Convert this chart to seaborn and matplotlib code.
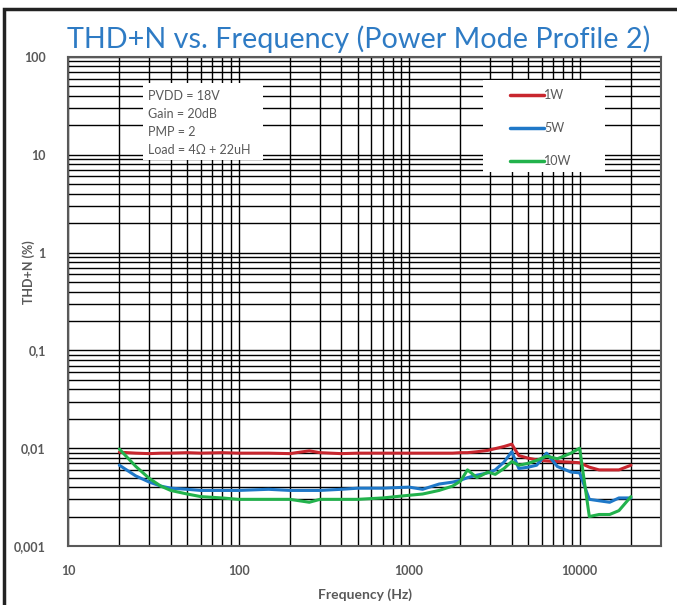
import numpy as np
import pandas as pd
import matplotlib
matplotlib.use("Agg")
import matplotlib.pyplot as plt
import seaborn as sns
from matplotlib.patches import Rectangle
from matplotlib.lines import Line2D
from matplotlib.ticker import FixedLocator, LogLocator, NullFormatter

# Frequency points (Hz)
freq = [20, 25, 30, 35, 40, 50, 60, 80, 100, 150, 200, 260, 300, 400, 500,
        700, 1000, 1200, 1500, 1800, 2000, 2200, 2500, 2900, 3200, 3600,
        4000, 4400, 5000, 5600, 6400, 7400, 8900, 10000, 11400, 13000,
        15000, 17000, 20000]

# THD+N (%) for each output power
thd_1w = [0.0091, 0.0089, 0.0088, 0.0089, 0.0089, 0.0090, 0.0089, 0.0090,
          0.0089, 0.0089, 0.0088, 0.0094, 0.0090, 0.0088, 0.0089, 0.0089,
          0.0089, 0.0089, 0.0089, 0.0089, 0.0090, 0.0090, 0.0092, 0.0095,
          0.0099, 0.0104, 0.0110, 0.0084, 0.0079, 0.0076, 0.0074, 0.0073,
          0.0072, 0.0071, 0.0064, 0.0060, 0.0060, 0.0060, 0.0067]
thd_5w = [0.0067, 0.0052, 0.0045, 0.0041, 0.0039, 0.0038, 0.0037, 0.0037,
          0.0037, 0.0038, 0.0037, 0.0037, 0.0037, 0.0038, 0.0039, 0.0039,
          0.0040, 0.0038, 0.0043, 0.0045, 0.0047, 0.0050, 0.0053, 0.0056,
          0.0060, 0.0072, 0.0092, 0.0062, 0.0064, 0.0067, 0.0089, 0.0065,
          0.0057, 0.0056, 0.0030, 0.0029, 0.0028, 0.0031, 0.0031]
thd_10w = [0.0098, 0.0065, 0.0049, 0.0041, 0.0037, 0.0034, 0.0032, 0.0031,
           0.0030, 0.0030, 0.0030, 0.0028, 0.0030, 0.0030, 0.0030, 0.0031,
           0.0033, 0.0034, 0.0037, 0.0041, 0.0046, 0.0060, 0.0050, 0.0057,
           0.0054, 0.0062, 0.0073, 0.0067, 0.0070, 0.0075, 0.0083, 0.0078,
           0.0089, 0.0100, 0.0020, 0.0021, 0.0021, 0.0023, 0.0032]

series = ["1W", "5W", "10W"]
colors = ["#C8262E", "#1F78C8", "#22B24C"]
info_lines = ["PVDD = 18V", "Gain = 20dB", "PMP = 2", "Load = 4\u03a9 + 22uH"]

df = pd.DataFrame({
    "freq": freq * 3,
    "thd": thd_1w + thd_5w + thd_10w,
    "series": [s for s in series for _ in freq],
})

sns.set_style("white")
plt.rcParams["font.family"] = ["Lato", "DejaVu Sans"]
grey = "#595959"

fig = plt.figure(figsize=(6.77, 6.05), dpi=100)
ax = fig.add_axes([68 / 677, 1 - 546 / 605, (661 - 68) / 677, (546 - 57) / 605])

sns.lineplot(data=df, x="freq", y="thd", hue="series", palette=colors,
             hue_order=series, estimator=None, sort=False, lw=2.2,
             legend=False, ax=ax, zorder=3)

ax.set_xscale("log")
ax.set_yscale("log")
ax.set_xlim(10, 30000)
ax.set_ylim(0.001, 100)

# grid on every 1..9 step of each decade
ax.xaxis.set_major_locator(FixedLocator([10, 100, 1000, 10000]))
ax.xaxis.set_minor_locator(LogLocator(base=10, subs=np.arange(2, 10)))
ax.yaxis.set_major_locator(FixedLocator([0.001, 0.01, 0.1, 1, 10, 100]))
ax.yaxis.set_minor_locator(LogLocator(base=10, subs=np.arange(2, 10)))
ax.xaxis.set_minor_formatter(NullFormatter())
ax.yaxis.set_minor_formatter(NullFormatter())
ax.set_xticklabels(["10", "100", "1000", "10000"])
ax.set_yticklabels(["0,001", "0,01", "0,1", "1", "10", "100"])
ax.grid(which="both", color="black", lw=1.0)
ax.set_axisbelow(True)
ax.tick_params(which="both", length=0)
ax.tick_params(axis="x", pad=14, labelsize=9, labelcolor=grey)
ax.tick_params(axis="y", pad=16, labelsize=9, labelcolor=grey)
for lab in ax.get_xticklabels() + ax.get_yticklabels():
    lab.set_fontweight("bold")
for sp in ax.spines.values():
    sp.set_color(grey)
    sp.set_linewidth(1.5)

ax.set_xlabel("Frequency (Hz)", fontsize=10, fontweight="bold", color=grey, labelpad=8)
ax.set_ylabel("THD+N (%)", fontsize=9, fontweight="bold", color=grey)
ax.yaxis.set_label_coords(-0.056, 0.56)

# info box
ax.add_patch(Rectangle((143 / 677, 1 - 160 / 605), 120 / 677, 77 / 605,
                       transform=fig.transFigure, facecolor="white",
                       edgecolor="none", zorder=4))
for i, t in enumerate(info_lines):
    fig.text(148 / 677, 1 - (96 + 18 * i) / 605, t, fontsize=9, color=grey,
             va="center", ha="left", zorder=5)

# legend box
ax.add_patch(Rectangle((483 / 677, 1 - 172 / 605), 122 / 677, 92 / 605,
                       transform=fig.transFigure, facecolor="white",
                       edgecolor="none", zorder=4))
handles = [Line2D([], [], color=c, lw=2.5) for c in colors]
leg = ax.legend(handles, series, loc="upper left",
                bbox_to_anchor=(510 / 677, 1 - 89 / 605),
                bbox_transform=fig.transFigure, frameon=False,
                fontsize=9, handlelength=2.75,
                handletextpad=0.0, labelspacing=1.68, borderpad=0,
                borderaxespad=0)
for t in leg.get_texts():
    t.set_color(grey)
leg.set_zorder(5)

fig.text(359 / 677, 1 - 39 / 605, "THD+N vs. Frequency (Power Mode Profile 2)",
         fontsize=20.7, color="#2E7BC4", ha="center", va="center")

# outer frame
fig.patches.append(Rectangle((4 / 677, -0.2), 1.5, 1.2 - 9 / 605,
                             transform=fig.transFigure, facecolor="none",
                             edgecolor="#222222", lw=2.5))

fig.savefig("out.png", dpi=100)
